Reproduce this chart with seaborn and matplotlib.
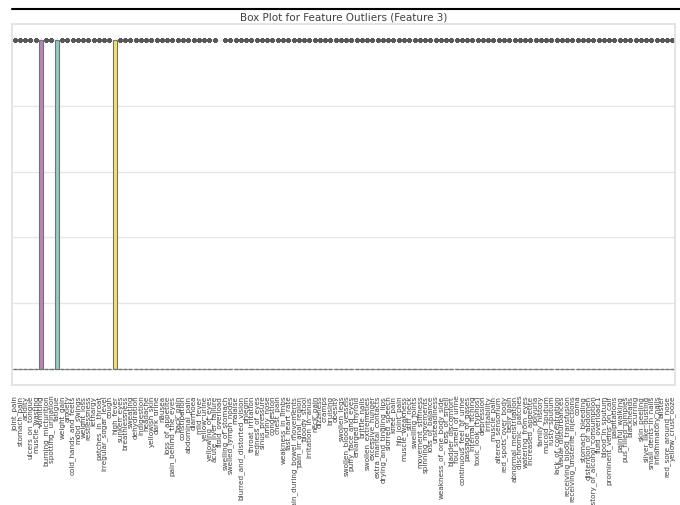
import matplotlib
matplotlib.use("Agg")
import matplotlib.pyplot as plt
import numpy as np
import pandas as pd
import seaborn as sns
from matplotlib.lines import Line2D

N_ROWS = 4920

SYMPTOMS = [
    "joint_pain", "stomach_pain", "acidity", "ulcers_on_tongue", "muscle_wasting", "vomiting",
    "burning_micturition", "spotting_ urination", "fatigue", "weight_gain", "anxiety",
    "cold_hands_and_feets", "mood_swings", "weight_loss", "restlessness", "lethargy",
    "patches_in_throat", "irregular_sugar_level", "cough", "high_fever", "sunken_eyes",
    "breathlessness", "sweating", "dehydration", "indigestion", "headache", "yellowish_skin",
    "dark_urine", "nausea", "loss_of_appetite", "pain_behind_the_eyes", "back_pain",
    "constipation", "abdominal_pain", "diarrhoea", "mild_fever", "yellow_urine",
    "yellowing_of_eyes", "acute_liver_failure", "fluid_overload", "swelling_of_stomach",
    "swelled_lymph_nodes", "malaise", "blurred_and_distorted_vision", "phlegm",
    "throat_irritation", "redness_of_eyes", "sinus_pressure", "runny_nose", "congestion",
    "chest_pain", "weakness_in_limbs", "fast_heart_rate", "pain_during_bowel_movements",
    "pain_in_anal_region", "bloody_stool", "irritation_in_anus", "neck_pain", "dizziness",
    "cramps", "bruising", "obesity", "swollen_legs", "swollen_blood_vessels",
    "puffy_face_and_eyes", "enlarged_thyroid", "brittle_nails", "swollen_extremeties",
    "excessive_hunger", "extra_marital_contacts", "drying_and_tingling_lips", "slurred_speech",
    "knee_pain", "hip_joint_pain", "muscle_weakness", "stiff_neck", "swelling_joints",
    "movement_stiffness", "spinning_movements", "loss_of_balance", "unsteadiness",
    "weakness_of_one_body_side", "loss_of_smell", "bladder_discomfort", "foul_smell_of urine",
    "continuous_feel_of_urine", "passage_of_gases", "internal_itching", "toxic_look_(typhos)",
    "depression", "irritability", "muscle_pain", "altered_sensorium", "red_spots_over_body",
    "belly_pain", "abnormal_menstruation", "dischromic _patches", "watering_from_eyes",
    "increased_appetite", "polyuria", "family_history", "mucoid_sputum", "rusty_sputum",
    "lack_of_concentration", "visual_disturbances", "receiving_blood_transfusion",
    "receiving_unsterile_injections", "coma", "stomach_bleeding", "distention_of_abdomen",
    "history_of_alcohol_consumption", "fluid_overload.1", "blood_in_sputum",
    "prominent_veins_on_calf", "palpitations", "painful_walking", "pus_filled_pimples",
    "blackheads", "scurring", "skin_peeling", "silver_like_dusting", "small_dents_in_nails",
    "inflammatory_nails", "blister", "red_sore_around_nose", "yellow_crust_ooze",
]

# number of rows with the symptom present (value 1), the rest are 0
POSITIVE_COUNTS = [
    684, 216, 204, 108, 108, 1914,
    216, 108, 1932, 108, 108,
    108, 330, 456, 222, 558,
    114, 108, 564, 1362, 108,
    450, 678, 108, 222, 1134, 912,
    570, 1146, 1152, 108, 108,
    114, 1032, 564, 330, 114,
    816, 114, 0, 114,
    336, 678, 342, 342,
    108, 114, 114, 108, 114,
    570, 114, 108, 108,
    114, 114, 114, 222, 336,
    114, 114, 228, 114, 114,
    114, 114, 114, 114,
    342, 114, 114, 114,
    114, 108, 228, 216, 228,
    216, 114, 336, 222,
    114, 108, 108, 114,
    114, 114, 114, 114,
    228, 330, 456, 114, 222,
    114, 228, 108, 108,
    228, 228, 222, 108, 114,
    108, 228, 108,
    108, 114, 114, 222,
    108, 114, 108,
    108, 108, 336, 114,
    108, 114, 114, 108, 114,
    114, 108, 114, 114,
]

sns.set_theme(style="whitegrid", rc={"grid.color": "0.9", "axes.edgecolor": "0.88"})

wide = pd.DataFrame(
    {name: np.r_[np.ones(k, dtype=np.int8), np.zeros(N_ROWS - k, dtype=np.int8)]
     for name, k in zip(SYMPTOMS, POSITIVE_COUNTS)}
)
long = wide.melt(var_name="symptom", value_name="value")

set3 = sns.color_palette("Set3", 12)
palette = [set3[(i + 4) % 12] for i in range(len(SYMPTOMS))]

fig = plt.figure(figsize=(6.8, 5.06), dpi=100)
ax = fig.add_axes([12 / 680, 120 / 506, 663 / 680, 361 / 506])
sns.boxplot(
    data=long, x="symptom", y="value", hue="symptom", order=SYMPTOMS, hue_order=SYMPTOMS,
    palette=palette, legend=False, linewidth=0.8, linecolor="0.45", ax=ax,
    flierprops=dict(marker="D", markersize=2.4, markeredgewidth=0,
                    markerfacecolor="0.35", markeredgecolor="0.35"),
)
ax.set_title("Box Plot for Feature Outliers (Feature 3)", fontsize=7.5, color="0.25", pad=3)
ax.set_xlabel("")
ax.set_ylabel("")
ax.tick_params(axis="x", rotation=90, labelsize=5.2, pad=1, labelcolor="0.25")
ax.tick_params(axis="y", labelleft=False, length=0)

fig.add_artist(Line2D([12 / 680, 1], [1 - 10 / 506, 1 - 10 / 506], color="black", linewidth=1.5))

fig.savefig("out.png", dpi=100)
